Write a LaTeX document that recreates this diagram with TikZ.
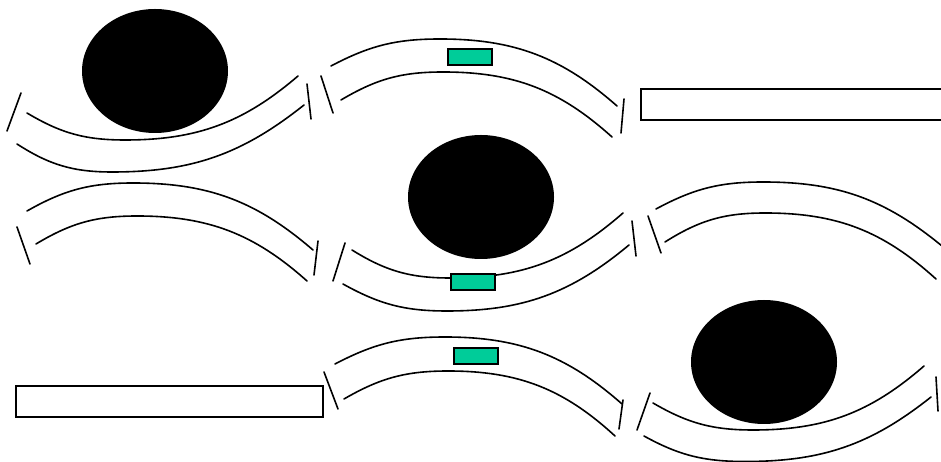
\documentclass[tikz,border=0pt]{standalone}
\definecolor{tealgreen}{HTML}{00CC99}
\begin{document}
\begin{tikzpicture}[x=1pt,y=1pt,
  band/.style={line width=1.6pt,line cap=round},
  tick/.style={line width=1.6pt,line cap=round},
  mass/.style={fill=black},
  bar/.style={draw=black,line width=1.6pt,fill=white},
  tag/.style={draw=black,line width=1.4pt,fill=tealgreen}]
\useasboundingbox (0,0) rectangle (941,462);
\clip (0,0) rectangle (941,462);

% ---------- Panel 1 (top-left, sagging) ----------
\fill[mass] (155,391) ellipse [x radius=73, y radius=62];
\draw[band] (27,349) to[out=-30.8,in=180] (125,322) to[out=0,in=220.6] (298,386);
\draw[band] (17,318) to[out=-32.8,in=180] (112,290) to[out=0,in=218.5] (304,357);
\draw[tick] (21,369) -- (7,331);
\draw[tick] (307,378) -- (311,343);

% ---------- Panel 2 (top-middle, arched) ----------
\draw[band] (331,396) to[out=27.8,in=180] (440,423) to[out=0,in=138.6] (617,356);
\draw[band] (341,362) to[out=30.7,in=180] (443,390) to[out=0,in=138] (612,325);
\draw[tick] (321,386) -- (333,349);
\draw[tick] (624,363) -- (621,329);
\draw[tag] (448,413) rectangle (492,397);

% ---------- Panel 3 (top-right, straight bar) ----------
\draw[bar] (641,373) rectangle (950,342);

% ---------- Panel 4 (middle-left, arched) ----------
\draw[band] (27,251) to[out=29.6,in=180] (133,279) to[out=0,in=139.2] (313,212);
\draw[band] (36,218) to[out=31,in=180] (137,246) to[out=0,in=138.2] (307,181);
\draw[tick] (17,235) -- (30,198);
\draw[tick] (318,221) -- (314,187);

% ---------- Panel 5 (middle-centre, sagging) ----------
\fill[mass] (481,265) ellipse [x radius=73, y radius=62];
\draw[band] (352,212) to[out=-31.9,in=180] (450,184) to[out=0,in=221.2] (623,249);
\draw[band] (343,178) to[out=-29.1,in=180] (447,151) to[out=0,in=219.8] (629,217);
\draw[tick] (345,219) -- (333,181);
\draw[tick] (632,241) -- (636,206);
\draw[tag] (451,188) rectangle (495,172);

% ---------- Panel 6 (middle-right, arched) ----------
\draw[band] (656,253) to[out=28.3,in=180] (763,280) to[out=0,in=140.6] (942,216);
\draw[band] (665,220) to[out=32.3,in=180] (765,249) to[out=0,in=137.8] (936,183);
\draw[tick] (648,246) -- (661,209);

% ---------- Panel 7 (bottom-left, straight bar) ----------
\draw[bar] (16,76) rectangle (323,45);

% ---------- Panel 8 (bottom-middle, arched) ----------
\draw[band] (335,98) to[out=27.6,in=180] (445,125) to[out=0,in=138.6] (622,58);
\draw[band] (344,63) to[out=30.1,in=180] (448,91) to[out=0,in=137.4] (615,26);
\draw[tick] (324,90) -- (338,53);
\draw[tick] (623,62) -- (619,33);
\draw[tag] (454,114) rectangle (498,98);

% ---------- Panel 9 (bottom-right, sagging) ----------
\fill[mass] (764,100) ellipse [x radius=73, y radius=62];
\draw[band] (653,59) to[out=-30.2,in=180] (753,32) to[out=0,in=221] (924,96);
\draw[band] (644,26) to[out=-28.9,in=180] (745,0.5) to[out=0,in=218.5] (931,65);
\draw[tick] (650,69) -- (637,32);
\draw[tick] (936,85) -- (938,51);
\end{tikzpicture}
\end{document}
